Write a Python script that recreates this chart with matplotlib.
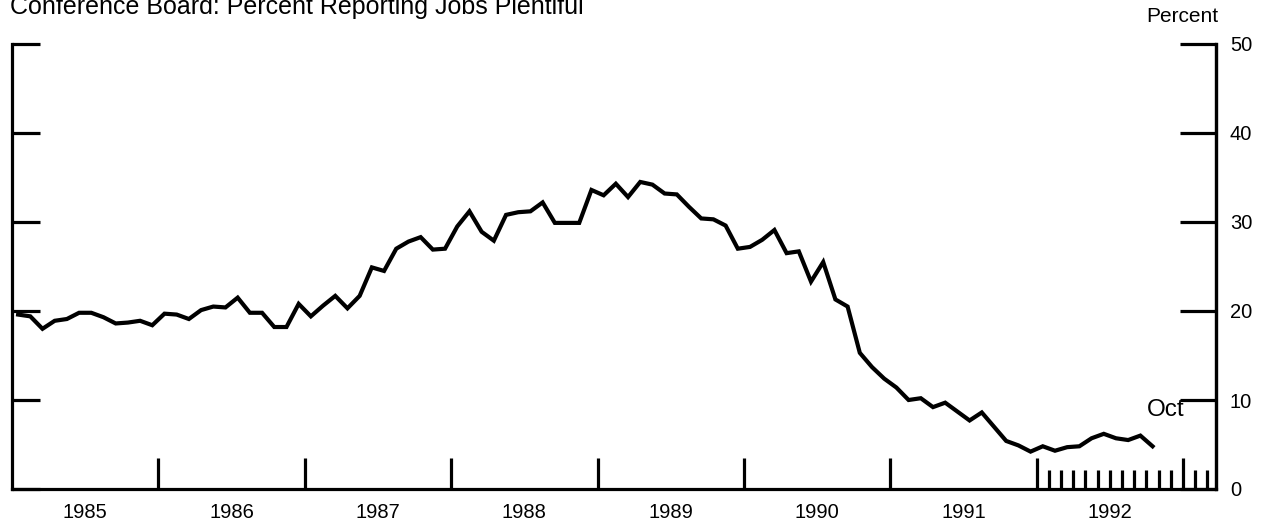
import numpy as np
import matplotlib.pyplot as plt
from matplotlib import transforms

plt.rcParams['font.family'] = ['Liberation Sans', 'DejaVu Sans']

# monthly values, Jan 1985 .. Oct 1992
v1985 = [19.6, 19.4, 18.0, 18.9, 19.1, 19.8, 19.8, 19.3, 18.6, 18.7, 18.9, 18.4]
v1986 = [19.7, 19.6, 19.1, 20.1, 20.5, 20.4, 21.5, 19.8, 19.8, 18.2, 18.2, 20.8]
v1987 = [19.4, 20.6, 21.7, 20.3, 21.7, 24.9, 24.5, 27.0, 27.8, 28.3, 26.9, 27.0]
v1988 = [29.5, 31.2, 28.9, 27.9, 30.8, 31.1, 31.2, 32.2, 29.9, 29.9, 29.9, 33.6]
v1989 = [33.0, 34.3, 32.8, 34.5, 34.2, 33.2, 33.1, 31.7, 30.4, 30.3, 29.6, 27.0]
v1990 = [27.2, 28.0, 29.1, 26.5, 26.7, 23.3, 25.5, 21.3, 20.5, 15.3, 13.7, 12.4]
v1991 = [11.4, 10.0, 10.2, 9.2, 9.7, 8.7, 7.7, 8.6, 7.0, 5.4, 4.9, 4.2]
v1992 = [4.8, 4.3, 4.7, 4.8, 5.7, 6.2, 5.7, 5.5, 6.0, 4.8]

years = [1985, 1986, 1987, 1988, 1989, 1990, 1991, 1992]
yticks = [0, 10, 20, 30, 40, 50]
title = 'Conference Board: Percent Reporting Jobs Plentiful'

values = np.array(v1985 + v1986 + v1987 + v1988 + v1989 + v1990 + v1991 + v1992)
months = np.arange(len(values)) + 0.5   # mid-month, months since Jan 1985

fig = plt.figure(figsize=(12.7, 5.29), dpi=100)
ax = fig.add_axes([12 / 1270, 40 / 529, 1204 / 1270, 445 / 529])

ax.plot(months, values, color='black', lw=3, solid_joinstyle='miter')

ax.set_xlim(0, 98.7)
ax.set_ylim(0, 50)

for s in ['left', 'right', 'bottom']:
    ax.spines[s].set_linewidth(2.3)
ax.spines['top'].set_visible(False)

# left ticks (no labels)
ax.set_yticks(yticks)
ax.tick_params(axis='y', direction='in', length=20, width=2.3, labelleft=False)

# right ticks with labels
ax2 = ax.twinx()
ax2.set_ylim(0, 50)
ax2.set_yticks(yticks)
for s in ['left', 'top', 'bottom']:
    ax2.spines[s].set_visible(False)
ax2.spines['right'].set_linewidth(2.3)
ax2.tick_params(axis='y', direction='in', length=26, width=2.3, labelsize=14.5, pad=10)

# year boundary ticks + monthly ticks in 1992/93
ax.set_xticks([12 * k for k in range(1, 9)])
ax.set_xticks(list(range(85, 96)) + [97, 98], minor=True)
ax.tick_params(axis='x', which='major', direction='in', length=22, width=2.3,
               labelbottom=False)
ax.tick_params(axis='x', which='minor', direction='in', length=14, width=2.3)

trans = transforms.blended_transform_factory(ax.transData, ax.transAxes)
for k, yr in enumerate(years):
    ax.text(12 * k + 6, -0.052, str(yr), transform=trans, ha='center', va='center',
            fontsize=14.5)

ax.text(months[-1] + 1.1, values[-1] + 4.1, 'Oct', ha='center', va='center', fontsize=17.5)

fig.text(1182 / 1270, 1 - 17 / 529, 'Percent', ha='center', va='center', fontsize=15)
fig.text(10 / 1270, 1 - 14 / 529, title, ha='left', va='baseline', fontsize=18)

fig.savefig('out.png', dpi=100)
